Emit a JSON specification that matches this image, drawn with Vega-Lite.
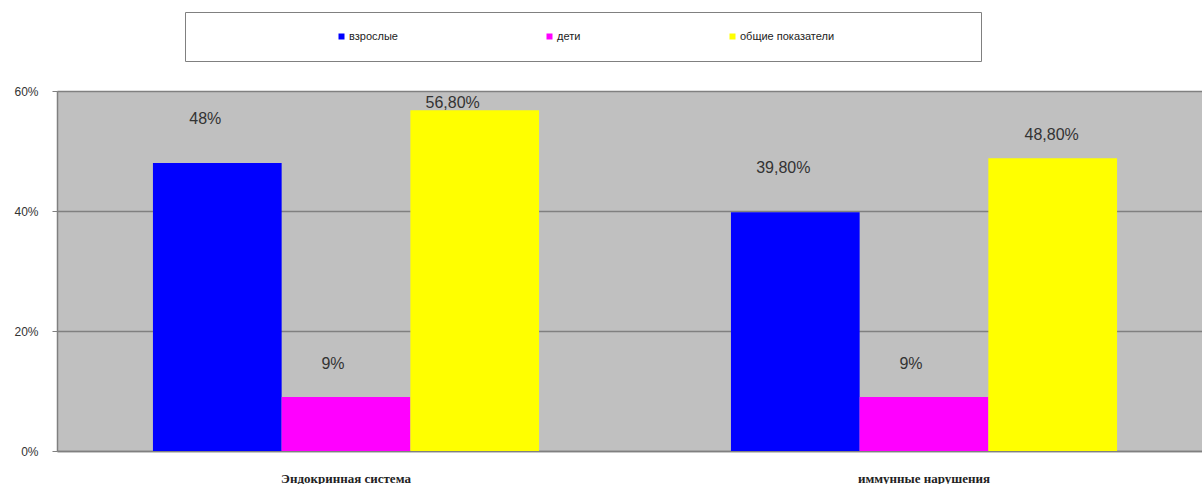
{
  "$schema": "https://vega.github.io/schema/vega-lite/v6.json",
  "width": 1156,
  "height": 360,
  "autosize": "none",
  "padding": {"left": 57, "top": 91, "right": 0, "bottom": 33},
  "background": "white",
  "config": {
    "font": "Arial",
    "view": {"fill": "#C0C0C0", "stroke": null}
  },
  "data": {
    "values": [
      {"category": "Эндокринная система", "group": "взрослые", "value": 0.48, "label": "48%"},
      {"category": "Эндокринная система", "group": "дети", "value": 0.09, "label": "9%"},
      {"category": "Эндокринная система", "group": "общие показатели", "value": 0.568, "label": "56,80%"},
      {"category": "иммунные нарушения", "group": "взрослые", "value": 0.398, "label": "39,80%"},
      {"category": "иммунные нарушения", "group": "дети", "value": 0.09, "label": "9%"},
      {"category": "иммунные нарушения", "group": "общие показатели", "value": 0.488, "label": "48,80%"}
    ]
  },
  "encoding": {
    "x": {
      "field": "category",
      "type": "nominal",
      "sort": null,
      "scale": {"paddingInner": 0.332, "paddingOuter": 0.166},
      "axis": {
        "title": null,
        "labelAngle": 0,
        "labelFont": "Liberation Serif",
        "labelFontWeight": "bold",
        "labelFontSize": 13,
        "labelColor": "#222222",
        "labelPadding": 21,
        "ticks": false,
        "domainColor": "#808080",
        "domainWidth": 1.5
      }
    },
    "xOffset": {"field": "group", "type": "nominal", "sort": ["взрослые", "дети", "общие показатели"]},
    "y": {
      "field": "value",
      "type": "quantitative",
      "scale": {"domain": [0, 0.6], "nice": false},
      "axis": {
        "title": null,
        "values": [0, 0.2, 0.4, 0.6],
        "format": ".0%",
        "labelFontSize": 12,
        "labelColor": "#333333",
        "labelPadding": 14,
        "tickSize": 5,
        "tickColor": "#808080",
        "domainColor": "#808080",
        "domainWidth": 1.5,
        "gridColor": "#808080",
        "gridWidth": 1.5,
        "gridOpacity": 1
      }
    }
  },
  "layer": [
    {
      "mark": {"type": "bar"},
      "encoding": {
        "color": {
          "field": "group",
          "type": "nominal",
          "sort": ["взрослые", "дети", "общие показатели"],
          "scale": {"domain": ["взрослые", "дети", "общие показатели"], "range": ["#0000FF", "#FF00FF", "#FFFF00"]},
          "legend": {
            "orient": "none",
            "legendX": 128,
            "legendY": -79,
            "direction": "horizontal",
            "title": " ",
            "titleOrient": "right",
            "titlePadding": 128,
            "titleFontSize": 11,
            "padding": 19,
            "symbolOffset": 132,
            "gridAlign": "none",
            "symbolType": "square",
            "symbolSize": 36,
            "symbolStrokeWidth": 0,
            "labelFontSize": 11,
            "labelColor": "#222222",
            "labelOffset": 2,
            "columnPadding": 14,
            "strokeColor": "#808080",
            "fillColor": "white"
          }
        }
      }
    },
    {
      "transform": [{"filter": "datum.group === 'взрослые'"}],
      "mark": {"type": "text", "baseline": "middle", "fontSize": 16, "color": "#333333", "dx": -12, "dy": -44},
      "encoding": {"text": {"field": "label"}}
    },
    {
      "transform": [{"filter": "datum.group === 'дети'"}],
      "mark": {"type": "text", "baseline": "middle", "fontSize": 16, "color": "#333333", "dx": -13, "dy": -33},
      "encoding": {"text": {"field": "label"}}
    },
    {
      "transform": [{"filter": "datum.group === 'общие показатели' && datum.category === 'Эндокринная система'"}],
      "mark": {"type": "text", "baseline": "middle", "fontSize": 16, "color": "#333333", "dx": -22, "dy": -7},
      "encoding": {"text": {"field": "label"}}
    },
    {
      "transform": [{"filter": "datum.group === 'общие показатели' && datum.category === 'иммунные нарушения'"}],
      "mark": {"type": "text", "baseline": "middle", "fontSize": 16, "color": "#333333", "dx": -1, "dy": -23},
      "encoding": {"text": {"field": "label"}}
    }
  ]
}
